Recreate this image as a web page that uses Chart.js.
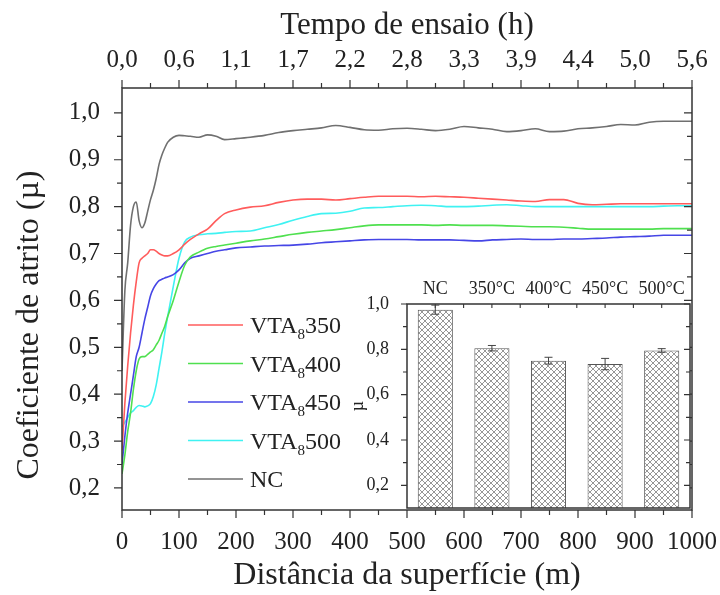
<!DOCTYPE html>
<html>
<head>
<meta charset="utf-8">
<script src="https://cdn.jsdelivr.net/npm/chart.js@4.4.0/dist/chart.umd.min.js"></script>
<style>
  body { margin: 0; background: #fff; }
  #wrap { position: relative; width: 720px; height: 595px; }
  #main { position: absolute; left: 0; top: 0; }
  #inset { position: absolute; left: 350px; top: 270px; }
</style>
</head>
<body>
<div id="wrap">
  <canvas id="main" width="720" height="595"></canvas>
  <canvas id="inset" width="350" height="245"></canvas>
</div>
<script>
// distance (m) shared by every curve
const distance = [0, 5, 10, 15, 20, 25, 30, 35, 40, 45, 50, 55, 60, 65, 70, 75, 80, 90, 100, 110, 120, 135, 150, 165, 180,
  200, 225, 250, 275, 300, 325, 350, 375, 400, 425, 450, 475, 500, 525, 550, 575, 600, 625, 650, 675, 700,
  725, 750, 775, 800, 825, 850, 875, 900, 925, 950, 975, 1000];

const vta350 = [0.28, 0.38, 0.46, 0.53, 0.59, 0.64, 0.68, 0.69, 0.695, 0.70, 0.708, 0.708, 0.705, 0.70, 0.697, 0.695, 0.695, 0.70, 0.708, 0.72, 0.73, 0.742, 0.752, 0.77, 0.785,
  0.793, 0.799, 0.802, 0.809, 0.814, 0.816, 0.816, 0.814, 0.817, 0.82, 0.822, 0.822, 0.822, 0.821, 0.822, 0.821, 0.82, 0.818, 0.816, 0.814, 0.812,
  0.811, 0.815, 0.815, 0.807, 0.804, 0.805, 0.806, 0.806, 0.806, 0.806, 0.806, 0.806];

const vta400 = [0.23, 0.27, 0.32, 0.36, 0.41, 0.45, 0.475, 0.48, 0.48, 0.485, 0.49, 0.495, 0.505, 0.515, 0.53, 0.545, 0.565, 0.60, 0.64, 0.675, 0.693, 0.703, 0.711, 0.715, 0.718,
  0.722, 0.727, 0.731, 0.736, 0.741, 0.745, 0.748, 0.751, 0.755, 0.759, 0.761, 0.761, 0.761, 0.761, 0.76, 0.761, 0.76, 0.76, 0.76, 0.759, 0.758,
  0.757, 0.757, 0.756, 0.754, 0.752, 0.752, 0.752, 0.752, 0.752, 0.753, 0.753, 0.753];

const vta450 = [0.25, 0.31, 0.36, 0.40, 0.44, 0.48, 0.50, 0.53, 0.56, 0.585, 0.61, 0.625, 0.635, 0.642, 0.645, 0.648, 0.65, 0.655, 0.665, 0.68, 0.69, 0.695, 0.70, 0.705, 0.708,
  0.712, 0.714, 0.716, 0.717, 0.718, 0.72, 0.723, 0.725, 0.727, 0.729, 0.73, 0.73, 0.73, 0.729, 0.729, 0.729, 0.728, 0.727, 0.729, 0.73, 0.731,
  0.73, 0.73, 0.731, 0.731, 0.732, 0.733, 0.735, 0.736, 0.737, 0.739, 0.739, 0.739];

const vta500 = [0.33, 0.34, 0.35, 0.36, 0.365, 0.372, 0.376, 0.375, 0.373, 0.375, 0.38, 0.395, 0.42, 0.455, 0.49, 0.53, 0.565, 0.63, 0.69, 0.725, 0.735, 0.74, 0.742, 0.743, 0.745,
  0.747, 0.748, 0.755, 0.762, 0.771, 0.779, 0.785, 0.786, 0.79, 0.797, 0.798, 0.80, 0.802, 0.803, 0.802, 0.80, 0.80, 0.801, 0.803, 0.804, 0.802,
  0.80, 0.80, 0.80, 0.80, 0.80, 0.80, 0.80, 0.80, 0.80, 0.801, 0.802, 0.802];

const nc = [0.45, 0.62, 0.68, 0.76, 0.80, 0.81, 0.77, 0.755, 0.765, 0.79, 0.815, 0.835, 0.86, 0.89, 0.91, 0.925, 0.937, 0.948, 0.952, 0.951, 0.95, 0.948, 0.953, 0.95, 0.943,
  0.945, 0.948, 0.952, 0.958, 0.962, 0.965, 0.968, 0.973, 0.969, 0.964, 0.963, 0.966, 0.967, 0.965, 0.962, 0.965, 0.971, 0.968, 0.965, 0.96, 0.962,
  0.966, 0.96, 0.961, 0.966, 0.968, 0.971, 0.975, 0.974, 0.98, 0.982, 0.982, 0.982];

const seriesNames = ["VTA₈350", "VTA₈400", "VTA₈450", "VTA₈500", "NC"];
const seriesValues = [vta350, vta400, vta450, vta500, nc];
const seriesColors = ["#ff5c5c", "#4fe04f", "#4646e6", "#3ff2f2", "#707070"];

// bottom axis ticks (m) and top axis: test time (h) at the same positions
const distanceTicks = [0, 100, 200, 300, 400, 500, 600, 700, 800, 900, 1000];
const hourLabels = ["0,0", "0,6", "1,1", "1,7", "2,2", "2,8", "3,3", "3,9", "4,4", "5,0", "5,6"];
const muTicks = [0.2, 0.3, 0.4, 0.5, 0.6, 0.7, 0.8, 0.9, 1.0];

// inset: mean friction coefficient
const insetCategories = ["NC", "350°C", "400°C", "450°C", "500°C"];
const insetMeans = [0.975, 0.805, 0.75, 0.735, 0.795];
const insetErrors = [0.02, 0.012, 0.015, 0.025, 0.008];
const insetTicks = [0.2, 0.4, 0.6, 0.8, 1.0];

const ink = "#222";
const serif = "'Liberation Serif', 'Times New Roman', serif";
const comma = v => v.toFixed(1).replace(".", ",");

// frame, inner/outer ticks and the vertical axis title
const frameTicks = {
  id: "frameTicks",
  afterDraw(chart) {
    const { ctx, chartArea: a, scales } = chart;
    const x = scales.x, y = scales.y;
    ctx.save();
    ctx.strokeStyle = "#333";
    ctx.lineWidth = 1.5;
    ctx.strokeRect(a.left, a.top, a.right - a.left, a.bottom - a.top);
    ctx.lineWidth = 1.2;
    ctx.beginPath();
    for (let i = 4; i <= 20; i++) {
      const py = y.getPixelForValue(i * 0.05);
      const len = i % 2 === 0 ? 8 : 5;
      ctx.moveTo(a.left - len, py); ctx.lineTo(a.left, py);
      ctx.moveTo(a.right, py); ctx.lineTo(a.right - len, py);
    }
    for (let i = 0; i <= 20; i++) {
      const px = x.getPixelForValue(i * 50);
      const len = i % 2 === 0 ? 8 : 5;
      ctx.moveTo(px, a.bottom); ctx.lineTo(px, a.bottom + len);
      ctx.moveTo(px, a.top); ctx.lineTo(px, a.top - len);
    }
    ctx.stroke();

    // y title, centred where the original puts it
    ctx.translate(30, (a.top + a.bottom) / 2 + 26);
    ctx.rotate(-Math.PI / 2);
    ctx.fillStyle = ink;
    ctx.font = "32px " + serif;
    ctx.textAlign = "center";
    ctx.textBaseline = "middle";
    ctx.fillText("Coeficiente de atrito (µ)", 0, 0);
    ctx.restore();
  }
};

// legend inside the plot, with subscript 8
const innerLegend = {
  id: "innerLegend",
  afterDraw(chart) {
    const { ctx, chartArea: a } = chart;
    const x0 = a.left + 66, y0 = a.top + 237, row = 38.5;
    ctx.save();
    ctx.textBaseline = "alphabetic";
    chart.data.datasets.forEach((ds, i) => {
      const cy = y0 + i * row;
      ctx.strokeStyle = ds.borderColor;
      ctx.lineWidth = 1.6;
      ctx.beginPath(); ctx.moveTo(x0, cy); ctx.lineTo(x0 + 55, cy); ctx.stroke();
      ctx.fillStyle = ink;
      let tx = x0 + 62;
      const parts = ds.label.split("₈");
      ctx.font = "24px " + serif;
      ctx.fillText(parts[0], tx, cy + 8);
      tx += ctx.measureText(parts[0]).width;
      if (parts.length > 1) {
        ctx.font = "15px " + serif;
        ctx.fillText("8", tx, cy + 14);
        tx += ctx.measureText("8").width;
        ctx.font = "24px " + serif;
        ctx.fillText(parts[1], tx, cy + 8);
      }
    });
    ctx.restore();
  }
};

const noSidePadding = s => { s.paddingLeft = 0; s.paddingRight = 0; };

new Chart(document.getElementById("main"), {
  type: "line",
  data: {
    datasets: seriesNames.map((name, s) => ({
      label: name,
      data: distance.map((d, i) => ({ x: d, y: seriesValues[s][i] })),
      borderColor: seriesColors[s],
      borderWidth: 1.6,
      pointRadius: 0,
      cubicInterpolationMode: "monotone",
      fill: false
    }))
  },
  options: {
    responsive: false,
    animation: false,
    layout: { padding: { right: 28, left: 0, top: 0, bottom: 0 } },
    plugins: { legend: { display: false }, tooltip: { enabled: false } },
    scales: {
      x: {
        type: "linear", position: "bottom", min: 0, max: 1000,
        grid: { display: false }, border: { display: false },
        afterBuildTicks(s) { s.ticks = distanceTicks.map(v => ({ value: v })); },
        ticks: { autoSkip: false, color: ink, font: { family: serif, size: 25 }, padding: 9, maxRotation: 0, callback: v => String(v) },
        title: { display: true, text: "Distância da superfície (m)", color: ink, font: { family: serif, size: 32 }, padding: { top: 2, bottom: 0 } },
        afterFit(s) { s.height = 85; noSidePadding(s); }
      },
      x2: {
        type: "linear", position: "top", min: 0, max: 1000,
        grid: { display: false }, border: { display: false },
        afterBuildTicks(s) { s.ticks = distanceTicks.map(v => ({ value: v })); },
        ticks: { autoSkip: false, color: ink, font: { family: serif, size: 25 }, padding: 5, maxRotation: 0, callback: (v, i) => hourLabels[i] },
        title: { display: true, text: "Tempo de ensaio (h)", color: ink, font: { family: serif, size: 31 }, padding: { top: 7, bottom: 0 } },
        afterFit(s) { s.height = 88; noSidePadding(s); }
      },
      y: {
        type: "linear", min: 0.153, max: 1.053,
        grid: { display: false }, border: { display: false },
        afterBuildTicks(s) { s.ticks = muTicks.map(v => ({ value: v })); },
        ticks: { color: ink, font: { family: serif, size: 25 }, padding: 14, callback: v => comma(v) },
        afterFit(s) { s.width = 122; s.paddingTop = 0; s.paddingBottom = 0; }
      }
    }
  },
  plugins: [frameTicks, innerLegend]
});

// ---- inset bar chart ----
function crossHatch() {
  const c = document.createElement("canvas");
  c.width = 6; c.height = 6;
  const g = c.getContext("2d");
  g.fillStyle = "#fff"; g.fillRect(0, 0, 6, 6);
  g.strokeStyle = "#8a8a8a"; g.lineWidth = 0.9;
  g.beginPath();
  g.moveTo(0, 0); g.lineTo(6, 6);
  g.moveTo(6, 0); g.lineTo(0, 6);
  g.stroke();
  return g.createPattern(c, "repeat");
}

const insetFrame = {
  id: "insetFrame",
  beforeDraw(chart) {
    const { ctx, chartArea: a } = chart;
    ctx.save();
    ctx.fillStyle = "#fff";
    ctx.fillRect(a.left, a.top, a.right - a.left, a.bottom - a.top);
    ctx.restore();
  },
  afterDraw(chart) {
    const { ctx, chartArea: a, scales } = chart;
    const x = scales.x, y = scales.y;
    ctx.save();
    ctx.strokeStyle = "#333";
    ctx.lineWidth = 1.5;
    ctx.strokeRect(a.left, a.top, a.right - a.left, a.bottom - a.top);
    ctx.lineWidth = 1.1;
    ctx.beginPath();
    for (let i = 2; i <= 10; i++) {
      const py = y.getPixelForValue(i * 0.1);
      const len = i % 2 === 0 ? 6 : 4;
      ctx.moveTo(a.left - len, py); ctx.lineTo(a.left, py);
      ctx.moveTo(a.right, py); ctx.lineTo(a.right - len, py);
    }
    const step = (a.right - a.left) / insetCategories.length / 2;
    for (let k = 1; k < insetCategories.length * 2; k++) {
      const px = a.left + k * step;
      ctx.moveTo(px, a.top); ctx.lineTo(px, a.top + 4);
    }
    ctx.stroke();
    // error bars
    ctx.strokeStyle = "#444";
    ctx.lineWidth = 1;
    const meta = chart.getDatasetMeta(0);
    meta.data.forEach((bar, i) => {
      const hi = y.getPixelForValue(insetMeans[i] + insetErrors[i]);
      const lo = y.getPixelForValue(insetMeans[i] - insetErrors[i]);
      ctx.beginPath();
      ctx.moveTo(bar.x, hi); ctx.lineTo(bar.x, lo);
      ctx.moveTo(bar.x - 4, hi); ctx.lineTo(bar.x + 4, hi);
      ctx.moveTo(bar.x - 4, lo); ctx.lineTo(bar.x + 4, lo);
      ctx.stroke();
    });
    ctx.restore();
  }
};

new Chart(document.getElementById("inset"), {
  type: "bar",
  data: {
    labels: insetCategories,
    datasets: [{
      data: insetMeans,
      backgroundColor: crossHatch(),
      borderColor: "#555",
      borderWidth: 1,
      barPercentage: 0.62,
      categoryPercentage: 1
    }]
  },
  options: {
    responsive: false,
    animation: false,
    layout: { padding: { right: 10, bottom: 7, left: 0, top: 0 } },
    plugins: { legend: { display: false }, tooltip: { enabled: false } },
    scales: {
      x: {
        position: "top",
        grid: { display: false }, border: { display: false },
        ticks: { color: ink, font: { family: serif, size: 18 }, padding: -4, maxRotation: 0, autoSkip: false },
        afterFit(s) { s.height = 34; noSidePadding(s); }
      },
      y: {
        min: 0.1, max: 1.0,
        grid: { display: false }, border: { display: false },
        afterBuildTicks(s) { s.ticks = insetTicks.map(v => ({ value: v })); },
        ticks: { color: ink, font: { family: serif, size: 18 }, padding: 10, callback: v => comma(v) },
        title: { display: true, text: "µ", color: ink, font: { family: serif, size: 18 }, padding: { top: -3, bottom: 0 } },
        afterFit(s) { s.width = 57; s.paddingTop = 0; s.paddingBottom = 0; }
      }
    }
  },
  plugins: [insetFrame]
});
</script>
</body>
</html>
